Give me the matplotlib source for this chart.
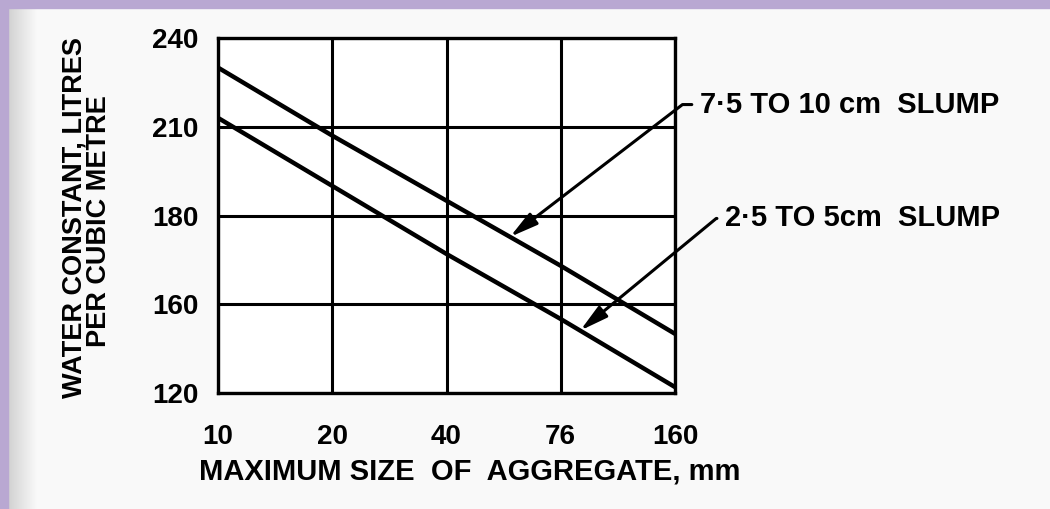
import numpy as np
import matplotlib
matplotlib.use("Agg")
import matplotlib.pyplot as plt
from matplotlib.patches import Rectangle

# data
x_labels = ["10", "20", "40", "76", "160"]
y_ticks = [120, 150, 180, 210, 240]
y_labels = ["120", "160", "180", "210", "240"]
slump_75_100 = [230, 207, 185, 163, 140]   # 7.5 to 10 cm slump
slump_25_50 = [213, 190, 167, 145, 122]    # 2.5 to 5 cm slump

plt.rcParams["font.family"] = ["Liberation Sans", "DejaVu Sans"]
plt.rcParams["font.weight"] = "bold"

W, H = 1050, 509
fig = plt.figure(figsize=(W / 100, H / 100), dpi=100)
fig.patch.set_facecolor("#f9f9f9")

# purple frame on top and left
purple = "#b9a8d2"
fig.patches.append(Rectangle((0, 1 - 8 / H), 1, 8 / H, transform=fig.transFigure,
                             color=purple, zorder=0))
fig.patches.append(Rectangle((0, 0), 8 / W, 1, transform=fig.transFigure,
                             color=purple, zorder=0))

# soft shadow along the inner left edge
shade = fig.add_axes([8 / W, 0, 30 / W, 1 - 8 / H])
grad = np.linspace(0.82, 0.98, 64)[np.newaxis, :]
shade.imshow(grad, aspect="auto", cmap="gray", vmin=0, vmax=1)
shade.set_axis_off()

ax = fig.add_axes([218 / W, 1 - 393 / H, 457 / W, 355 / H])
ax.set_facecolor("white")
xs = np.arange(len(x_labels))

ax.plot(xs, slump_75_100, color="black", lw=3.2, solid_capstyle="butt", zorder=3)
ax.plot(xs, slump_25_50, color="black", lw=3.2, solid_capstyle="butt", zorder=3)

ax.set_xlim(0, len(x_labels) - 1)
ax.set_ylim(120, 240)
ax.set_xticks(xs)
ax.set_xticklabels(x_labels, fontsize=20, fontweight="bold")
ax.set_yticks(y_ticks)
ax.set_yticklabels(y_labels, fontsize=20, fontweight="bold")
ax.tick_params(axis="x", length=0, pad=22)
ax.tick_params(axis="y", length=0, pad=14)
ax.grid(True, color="black", lw=2.2)
for s in ax.spines.values():
    s.set_linewidth(2.4)

fig.text(470 / W, 1 - 471 / H, "MAXIMUM SIZE  OF  AGGREGATE, mm", ha="center",
         va="center", fontsize=21, fontweight="bold")

fig.text(75 / W, 1 - 218 / H, "WATER CONSTANT, LITRES", rotation=90,
         ha="center", va="center", fontsize=19.5, fontweight="bold")
fig.text(99 / W, 1 - 221 / H, "PER CUBIC METRE", rotation=90,
         ha="center", va="center", fontsize=19.5, fontweight="bold")

# leader annotations
leader = dict(arrowstyle="-|>,head_length=0.8,head_width=0.2",
              color="black", lw=2.2, shrinkA=4, shrinkB=0, relpos=(0, 0.5),
              joinstyle="round")
x1 = 2.556
ax.annotate("7·5 TO 10 cm  SLUMP", xy=(x1, np.interp(x1, xs, slump_75_100)),
            xytext=(4.22, 217.5), textcoords="data", ha="left", va="center",
            fontsize=21, fontweight="bold", annotation_clip=False,
            arrowprops=dict(leader, connectionstyle="angle,angleA=0,angleB=37.5,rad=0"))
x2 = 3.17
ax.annotate("2·5 TO 5cm  SLUMP", xy=(x2, np.interp(x2, xs, slump_25_50)),
            xytext=(4.44, 179.0), textcoords="data", ha="left", va="center",
            fontsize=21, fontweight="bold", annotation_clip=False,
            arrowprops=dict(leader, connectionstyle="angle,angleA=0,angleB=39.5,rad=0"))

fig.savefig("out.png", dpi=100, facecolor=fig.get_facecolor())
